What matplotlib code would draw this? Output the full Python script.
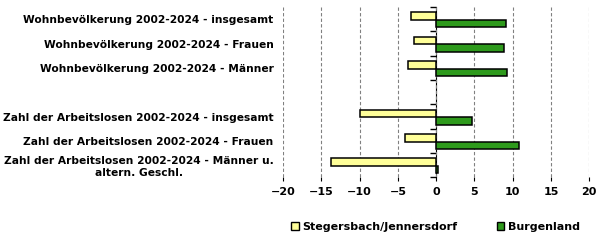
import matplotlib.pyplot as plt
import numpy as np
from matplotlib.patches import Patch

# category labels, top to bottom (empty slot in the middle)
categories = [
    "Wohnbevölkerung 2002-2024 - insgesamt",
    "Wohnbevölkerung 2002-2024 - Frauen",
    "Wohnbevölkerung 2002-2024 - Männer",
    "",
    "Zahl der Arbeitslosen 2002-2024 - insgesamt",
    "Zahl der Arbeitslosen 2002-2024 - Frauen",
    "Zahl der Arbeitslosen 2002-2024 - Männer u.\naltern. Geschl.",
]
region_vals = [-3.3, -2.9, -3.7, np.nan, -9.9, -4.1, -13.7]
burgenland_vals = [9.1, 8.8, 9.3, np.nan, 4.65, 10.8, 0.2]

region_name = "Stegersbach/Jennersdorf"
land_name = "Burgenland"
col_region = "#FFFF99"
col_land = "#2E9A1C"

plt.rcParams['font.family'] = 'DejaVu Sans'
plt.rcParams['font.weight'] = 'bold'

fig = plt.figure(figsize=(6.05, 2.44), dpi=100)
ax = fig.add_axes([0.468, 0.273, 0.506, 0.698])

y = np.arange(len(categories))
h = 0.31
ax.barh(y - 0.13, region_vals, height=h, color=col_region, edgecolor='black', linewidth=1.1)
ax.barh(y + 0.18, burgenland_vals, height=h, color=col_land, edgecolor='black', linewidth=1.1)

ax.set_xlim(-20, 20)
ax.set_ylim(len(categories) - 0.5, -0.5)
ax.set_xticks(np.arange(-20, 21, 5))
ax.tick_params(axis='x', length=3, labelsize=8, pad=4)
ax.set_yticks(y)
ax.set_yticklabels(categories, fontsize=7.7, multialignment='center')
ax.tick_params(axis='y', length=0, pad=7)

for s in ['top', 'right', 'left', 'bottom']:
    ax.spines[s].set_visible(False)
ax.grid(axis='x', color='#808080', linestyle=(0, (3, 2)), linewidth=0.8)
ax.set_axisbelow(True)

# zero axis with tick marks between categories, pointing left
sec = ax.secondary_yaxis(0.5)
sec.set_yticks(np.arange(-0.5, len(categories), 1))
sec.set_yticklabels([])
sec.tick_params(axis='y', length=4, width=1, direction='in')
sec.spines['left'].set_linewidth(1.2)

handles = [Patch(facecolor=col_region, edgecolor='black', label=region_name),
           Patch(facecolor=col_land, edgecolor='black', label=land_name)]
fig.legend(handles=handles, loc='center', bbox_to_anchor=(0.72, 0.07), ncol=2,
           frameon=False, fontsize=8, handlelength=0.7, handleheight=0.7,
           handletextpad=0.3, columnspacing=3.5)

fig.savefig('out.png', dpi=100)
